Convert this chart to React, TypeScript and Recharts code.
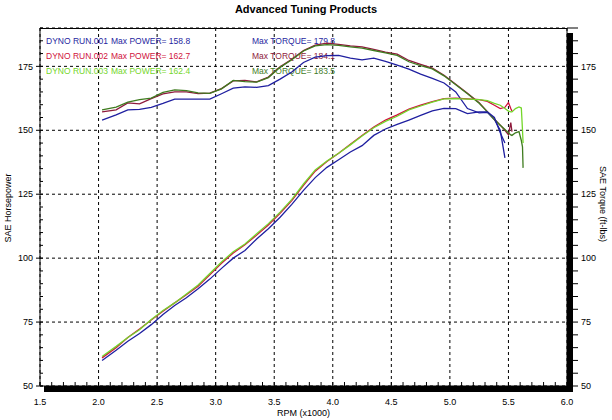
import {
  CartesianGrid,
  Customized,
  Label,
  Line,
  LineChart,
  XAxis,
  YAxis,
} from "recharts";

// engine speed, x1000 rpm (shared by all three dyno pulls)
const RPM = [
  2.03, 2.15, 2.25, 2.35, 2.45, 2.55, 2.65, 2.75, 2.85, 2.95, 3.05, 3.15, 3.25,
  3.35, 3.45, 3.55, 3.65, 3.75, 3.85, 3.95, 4.05, 4.15, 4.25, 4.35, 4.45, 4.55,
  4.65, 4.75, 4.85, 4.95, 5.05, 5.15, 5.25, 5.32, 5.38, 5.43, 5.47, 5.5, 5.52,
  5.53, 5.56, 5.59, 5.61, 5.62, 5.625,
];

// SAE horsepower
const POWER_RUN1 = [
  60, 64, 67.5, 70.5, 74, 78, 81.5, 84.5, 88, 91.8, 96, 100, 103, 107.5, 111.5,
  116, 121, 126.5, 131.5, 135.5, 138.5, 141.5, 144, 148, 150.5, 152.3, 154,
  155.8, 157.6, 158.6, 158.5, 156.5, 157.2, 157.2, 155, 149, 145,
];
const POWER_RUN2 = [
  61, 65, 69, 72.3, 75.8, 79.2, 82.5, 85.7, 89, 93.5, 98, 102, 105.2, 109, 113,
  117.5, 122.5, 128.5, 134, 137.8, 141, 144.5, 148, 151.3, 154, 156, 158.3,
  159.8, 161.2, 162.4, 162.6, 162.3, 162, 161.3, 159.8, 158.5, 159, 160.8,
  158.5, 157.5,
];
const POWER_RUN3 = [
  61.5, 65.5, 69, 72, 76, 79.5, 82.5, 86, 89.5, 94, 98.5, 102.5, 105.5, 109.5,
  113.5, 118, 123, 129, 134.5, 138, 141, 144.3, 147.8, 151, 153.5, 155.5, 158,
  159.5, 161, 162.3, 162.4, 162.2, 162, 161.6, 160.5, 159.8, 158.5, 157.5,
  157.2, 157.2, 158.5, 159.1, 158.7, 150, 145,
];

// SAE torque, ft-lbs
const TORQUE_RUN1 = [
  154, 156, 158, 158.2, 159, 160.5, 162.2, 162.2, 162.2, 162.2, 164.3, 166.5,
  167, 166.8, 167.5, 170, 172.8, 176.5, 178.6, 179.2, 179.3, 178.2, 177.5,
  178.2, 176.9, 175.5, 173.9, 172, 170.3, 168.5, 165, 158.5, 156.8, 157, 154.2,
  150, 139.2,
];
const TORQUE_RUN2 = [
  157.2, 158, 160.7, 160.3, 162.4, 164.2, 165, 165, 164.3, 164.5, 166.3, 169.3,
  169.5, 168.9, 170.8, 174.8, 177.8, 181.2, 183.3, 184.1, 183.6, 183, 182.6,
  181.6, 180.6, 179.8, 177.3, 175.8, 174.3, 171.5, 168, 164.5, 160.8, 157.3,
  154.3, 152, 150, 148.3, 153, 149.5,
];
const TORQUE_RUN3 = [
  158, 159.1, 161, 162, 162.6, 164.8, 165.8, 165.5, 164.6, 164.4, 166.2, 169.5,
  169, 168.8, 170.6, 174.6, 177.6, 181, 183, 183.5, 183.2, 182.6, 182.1, 181.2,
  180.3, 179.3, 176.8, 175.3, 174, 171.3, 167.8, 164.3, 160.6, 157.2, 154.2,
  152, 150.3, 149, 148.2, 148, 149, 149.5, 146, 143.5, 135.3,
];

const X_TICKS = [1.5, 2, 2.5, 3, 3.5, 4, 4.5, 5, 5.5, 6];
const Y_TICKS = [50, 75, 100, 125, 150, 175];

const X_MINOR: number[] = [];
for (let i = 15; i <= 60; i++) X_MINOR.push(i / 10);
const Y_MINOR: number[] = [];
for (let v = 50; v <= 190; v += 5) Y_MINOR.push(v);

const RUNS = [
  { name: "DYNO RUN.001", maxPower: "158.8", maxTorque: "179.8", pColor: "#1f1fa0", tColor: "#1f1fa0" },
  { name: "DYNO RUN.002", maxPower: "162.7", maxTorque: "184.1", pColor: "#d0123c", tColor: "#8e1a3c" },
  { name: "DYNO RUN.003", maxPower: "162.4", maxTorque: "183.5", pColor: "#74d62a", tColor: "#3f7c1f" },
];

const data = RPM.map((rpm, i) => ({
  rpm,
  p1: POWER_RUN1[i] ?? null,
  p2: POWER_RUN2[i] ?? null,
  p3: POWER_RUN3[i] ?? null,
  t1: TORQUE_RUN1[i] ?? null,
  t2: TORQUE_RUN2[i] ?? null,
  t3: TORQUE_RUN3[i] ?? null,
}));

const FONT = "'Liberation Sans', Arial, sans-serif";
const tickStyle = { fontSize: 9, fill: "#000", fontFamily: FONT };

function Overlay() {
  return (
    <g fontFamily={FONT}>
      <text x={306} y={13} textAnchor="middle" fontSize={11} fontWeight="bold" fill="#000">
        Advanced Tuning Products
      </text>
      <text x={11} y={208} textAnchor="middle" fontSize={9} fill="#000" transform="rotate(-90 11 208)">
        SAE Horsepower
      </text>
      <text x={600} y={204} textAnchor="middle" fontSize={9} fill="#000" transform="rotate(90 600 204)">
        SAE Torque (ft-lbs)
      </text>
      <line x1={40} y1={28.5} x2={567} y2={28.5} stroke="#000" />
      <rect x={567} y={33} width={6} height={359} fill="#000" />
      <rect x={44} y={386} width={529} height={6} fill="#000" />
      {RUNS.map((r, i) => (
        <g key={r.name} fontSize={8.5}>
          <text x={46} y={44 + i * 15} fill={r.pColor}>
            {r.name}
          </text>
          <text x={111} y={44 + i * 15} fill={r.pColor}>
            {`Max POWER= ${r.maxPower}`}
          </text>
          <text x={252} y={44 + i * 15} fill={r.tColor}>
            {`Max TORQUE= ${r.maxTorque}`}
          </text>
        </g>
      ))}
    </g>
  );
}

export default function App() {
  return (
    <div style={{ position: "fixed", left: 0, top: 0, width: 612, height: 420, background: "#fff" }}>
      <LineChart width={612} height={420} data={data} margin={{ top: 28, right: 0, bottom: 0, left: 0 }}>
        <CartesianGrid xAxisId="rpm" yAxisId="hp" stroke="#000" strokeDasharray="3 3" />
        <XAxis
          xAxisId="rpm"
          dataKey="rpm"
          type="number"
          domain={[1.5, 6]}
          ticks={X_TICKS}
          tickFormatter={(v: number) => v.toFixed(1)}
          tick={tickStyle}
          tickLine={false}
          tickSize={0}
          tickMargin={13}
          axisLine={{ stroke: "#000" }}
          height={34}
          allowDataOverflow
        >
          <Label value="RPM (x1000)" position="insideBottom" offset={4} fontSize={9} fill="#000" fontFamily={FONT} />
        </XAxis>
        <XAxis
          xAxisId="minor"
          dataKey="rpm"
          type="number"
          domain={[1.5, 6]}
          ticks={X_MINOR}
          tickFormatter={() => ""}
          mirror
          tickSize={4}
          axisLine={false}
          tickLine={{ stroke: "#000" }}
          allowDataOverflow
        />
        <YAxis
          yAxisId="hp"
          type="number"
          domain={[50, 190]}
          ticks={Y_TICKS}
          tick={tickStyle}
          tickSize={4}
          tickMargin={3}
          width={40}
          axisLine={{ stroke: "#000" }}
          tickLine={{ stroke: "#000" }}
          allowDataOverflow
        />
        <YAxis
          yAxisId="hpMinor"
          type="number"
          domain={[50, 190]}
          ticks={Y_MINOR}
          tickFormatter={() => ""}
          mirror
          tickSize={3}
          axisLine={false}
          tickLine={{ stroke: "#000" }}
          allowDataOverflow
        />
        <YAxis
          yAxisId="tq"
          orientation="right"
          type="number"
          domain={[50, 190]}
          ticks={Y_MINOR}
          tickFormatter={(v: number) => (v % 25 === 0 ? String(v) : "")}
          tick={tickStyle}
          tickSize={11}
          tickMargin={3}
          width={45}
          axisLine={{ stroke: "#000" }}
          tickLine={{ stroke: "#000" }}
          allowDataOverflow
        />
        <Customized component={Overlay} />
        <Line xAxisId="rpm" yAxisId="tq" dataKey="t1" type="linear" stroke={RUNS[0].tColor} strokeWidth={1.3} dot={false} isAnimationActive={false} />
        <Line xAxisId="rpm" yAxisId="tq" dataKey="t2" type="linear" stroke={RUNS[1].tColor} strokeWidth={1.3} dot={false} isAnimationActive={false} />
        <Line xAxisId="rpm" yAxisId="tq" dataKey="t3" type="linear" stroke={RUNS[2].tColor} strokeWidth={1.3} dot={false} isAnimationActive={false} />
        <Line xAxisId="rpm" yAxisId="hp" dataKey="p1" type="linear" stroke={RUNS[0].pColor} strokeWidth={1.3} dot={false} isAnimationActive={false} />
        <Line xAxisId="rpm" yAxisId="hp" dataKey="p2" type="linear" stroke={RUNS[1].pColor} strokeWidth={1.3} dot={false} isAnimationActive={false} />
        <Line xAxisId="rpm" yAxisId="hp" dataKey="p3" type="linear" stroke={RUNS[2].pColor} strokeWidth={1.3} dot={false} isAnimationActive={false} />
      </LineChart>
    </div>
  );
}
